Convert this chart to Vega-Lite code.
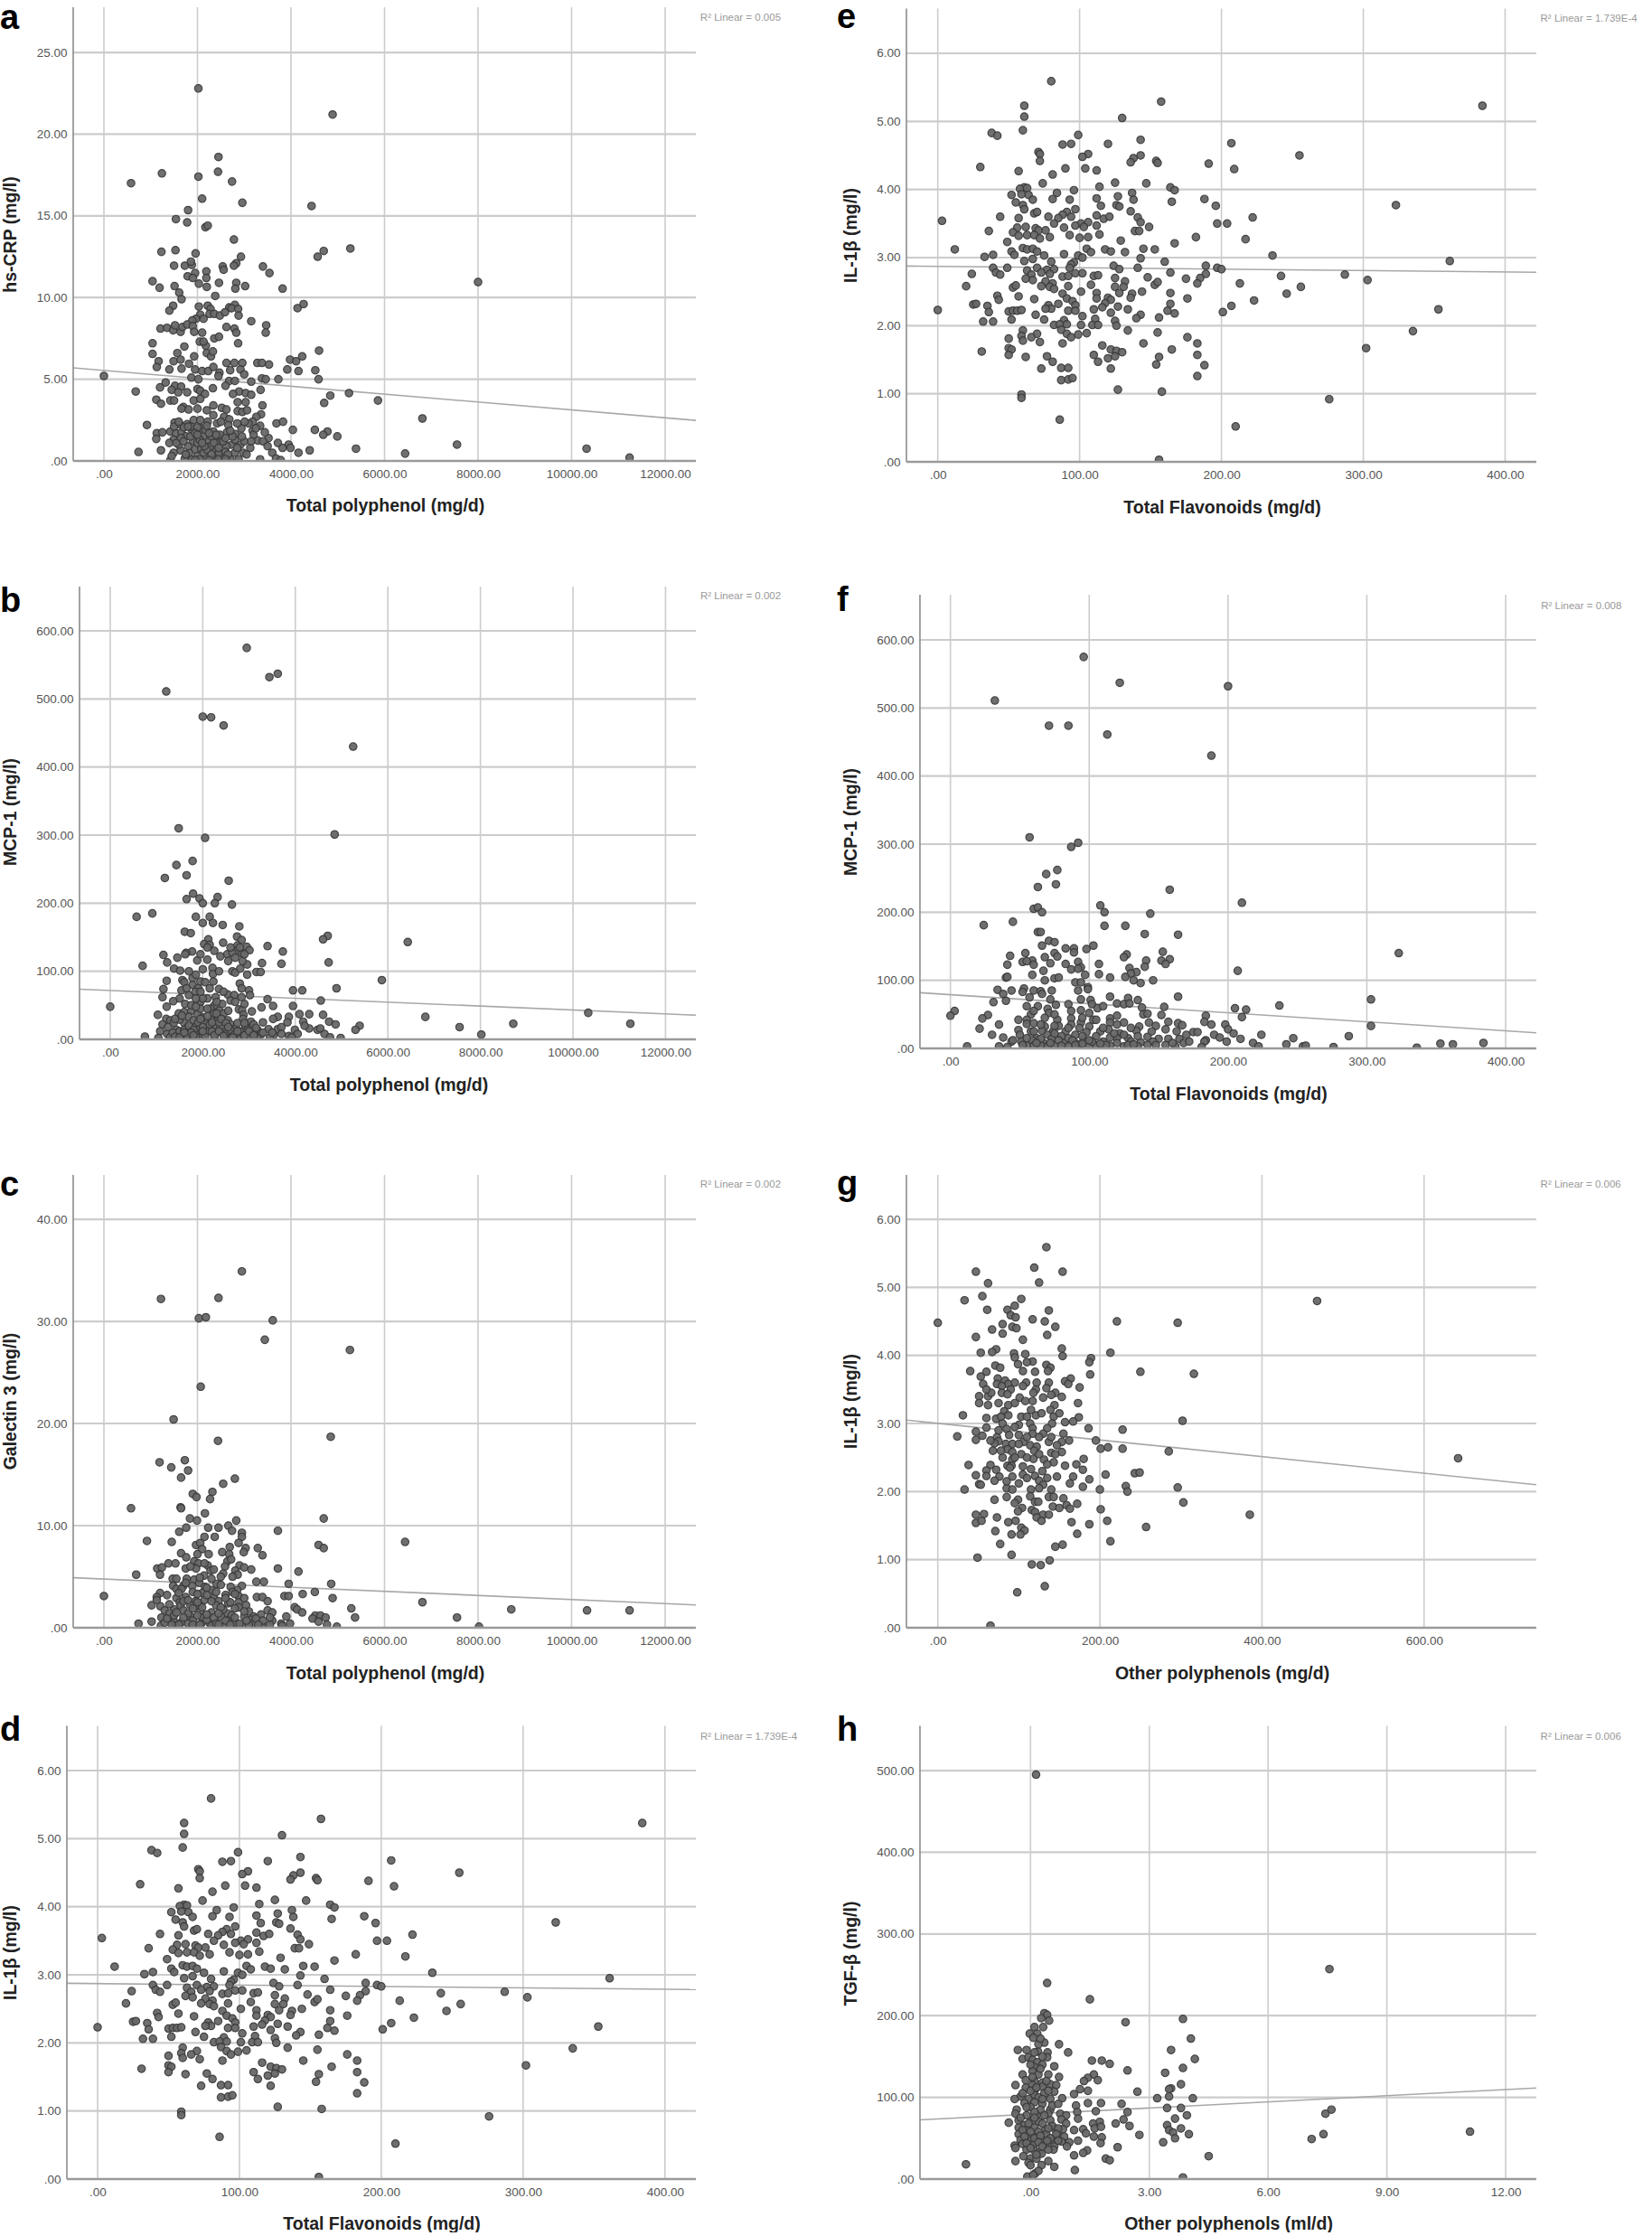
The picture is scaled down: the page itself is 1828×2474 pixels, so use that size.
{"$schema":"https://vega.github.io/schema/vega-lite/v6.json","padding":0,"background":"white","bounds":"flush","columns":2,"spacing":{"row":20,"column":233},
"config":{"view":{"stroke":null},"font":"Liberation Sans","axis":{"grid":false,"domain":false,"ticks":false,"tickSize":0,"labelFont":"Liberation Sans","labelFontSize":13.5,"labelColor":"#555555","titleFont":"Liberation Sans","titleFontSize":19.5,"titleFontWeight":"bold","titleColor":"#222222","zindex":1,"labelPadding":7},"title":{"font":"Liberation Sans","fontSize":38,"fontWeight":"bold","color":"#000000","anchor":"start","frame":"group","offset":0,"baseline":"alphabetic"},"rule":{"color":"#cccccc"}},
"datasets":{
"e":[{"x":80,"y":5.59},{"x":157.5,"y":5.29},{"x":384,"y":5.23},{"x":61,"y":5.23},{"x":61,"y":5.07},{"x":130,"y":5.05},{"x":60,"y":4.87},{"x":38,"y":4.83},{"x":42,"y":4.79},{"x":99,"y":4.8},{"x":143,"y":4.73},{"x":88,"y":4.66},{"x":94,"y":4.67},{"x":120,"y":4.67},{"x":207,"y":4.68},{"x":106,"y":4.52},{"x":143,"y":4.5},{"x":102,"y":4.48},{"x":71,"y":4.55},{"x":72,"y":4.52},{"x":72,"y":4.42},{"x":138,"y":4.46},{"x":136,"y":4.4},{"x":154,"y":4.42},{"x":155,"y":4.39},{"x":191,"y":4.38},{"x":255,"y":4.5},{"x":30,"y":4.33},{"x":90,"y":4.31},{"x":104,"y":4.31},{"x":209,"y":4.3},{"x":112,"y":4.28},{"x":57,"y":4.27},{"x":81,"y":4.22},{"x":125,"y":4.1},{"x":147,"y":4.09},{"x":74,"y":4.09},{"x":114,"y":4.04},{"x":61,"y":4.03},{"x":58,"y":4.01},{"x":63,"y":4.02},{"x":164,"y":4.03},{"x":167,"y":3.99},{"x":96,"y":3.99},{"x":137,"y":3.95},{"x":84,"y":3.95},{"x":52,"y":3.92},{"x":64,"y":3.92},{"x":127,"y":3.9},{"x":59,"y":3.93},{"x":67,"y":3.85},{"x":81,"y":3.86},{"x":93,"y":3.85},{"x":112,"y":3.87},{"x":138,"y":3.85},{"x":165,"y":3.82},{"x":188,"y":3.86},{"x":55,"y":3.81},{"x":60,"y":3.77},{"x":126,"y":3.77},{"x":128,"y":3.75},{"x":115,"y":3.76},{"x":196,"y":3.76},{"x":323,"y":3.77},{"x":97,"y":3.71},{"x":136,"y":3.68},{"x":61,"y":3.71},{"x":91,"y":3.67},{"x":68,"y":3.65},{"x":70,"y":3.67},{"x":88,"y":3.63},{"x":57,"y":3.58},{"x":44,"y":3.6},{"x":78,"y":3.6},{"x":85,"y":3.58},{"x":94,"y":3.6},{"x":112,"y":3.62},{"x":117,"y":3.57},{"x":121,"y":3.6},{"x":141,"y":3.59},{"x":222,"y":3.59},{"x":3,"y":3.54},{"x":143,"y":3.52},{"x":197,"y":3.5},{"x":204,"y":3.5},{"x":82,"y":3.5},{"x":101,"y":3.5},{"x":106,"y":3.52},{"x":97,"y":3.47},{"x":103,"y":3.45},{"x":149,"y":3.45},{"x":112,"y":3.47},{"x":56,"y":3.44},{"x":62,"y":3.45},{"x":69,"y":3.43},{"x":71,"y":3.4},{"x":76,"y":3.4},{"x":89,"y":3.44},{"x":36,"y":3.39},{"x":53,"y":3.37},{"x":114,"y":3.34},{"x":63,"y":3.33},{"x":57,"y":3.32},{"x":68,"y":3.33},{"x":79,"y":3.3},{"x":72,"y":3.28},{"x":93,"y":3.33},{"x":100,"y":3.29},{"x":106,"y":3.3},{"x":139,"y":3.39},{"x":142,"y":3.39},{"x":182,"y":3.3},{"x":217,"y":3.27},{"x":49,"y":3.23},{"x":129,"y":3.25},{"x":167,"y":3.21},{"x":60,"y":3.14},{"x":63,"y":3.12},{"x":67,"y":3.13},{"x":70,"y":3.09},{"x":105,"y":3.13},{"x":118,"y":3.12},{"x":145,"y":3.13},{"x":153,"y":3.12},{"x":12,"y":3.12},{"x":108,"y":3.08},{"x":122,"y":3.09},{"x":132,"y":3.08},{"x":52,"y":3.09},{"x":33,"y":3.01},{"x":39,"y":3.04},{"x":54,"y":3.04},{"x":75,"y":3.03},{"x":89,"y":3.05},{"x":99,"y":3.03},{"x":102,"y":3},{"x":143,"y":2.99},{"x":236,"y":3.03},{"x":67,"y":2.98},{"x":61,"y":2.95},{"x":80,"y":2.94},{"x":160,"y":2.94},{"x":96,"y":2.93},{"x":94,"y":2.9},{"x":124,"y":2.88},{"x":361,"y":2.95},{"x":39,"y":2.85},{"x":49,"y":2.85},{"x":63,"y":2.81},{"x":70,"y":2.85},{"x":77,"y":2.82},{"x":82,"y":2.83},{"x":93,"y":2.85},{"x":128,"y":2.83},{"x":141,"y":2.85},{"x":189,"y":2.88},{"x":197,"y":2.85},{"x":200,"y":2.83},{"x":41,"y":2.78},{"x":44,"y":2.75},{"x":24,"y":2.76},{"x":66,"y":2.75},{"x":73,"y":2.78},{"x":79,"y":2.76},{"x":97,"y":2.77},{"x":102,"y":2.77},{"x":164,"y":2.78},{"x":189,"y":2.76},{"x":242,"y":2.73},{"x":287,"y":2.75},{"x":303,"y":2.67},{"x":88,"y":2.72},{"x":92,"y":2.73},{"x":110,"y":2.73},{"x":113,"y":2.74},{"x":125,"y":2.7},{"x":148,"y":2.71},{"x":175,"y":2.69},{"x":185,"y":2.7},{"x":62,"y":2.69},{"x":67,"y":2.67},{"x":76,"y":2.65},{"x":81,"y":2.62},{"x":132,"y":2.65},{"x":153,"y":2.6},{"x":155,"y":2.64},{"x":183,"y":2.62},{"x":213,"y":2.62},{"x":256,"y":2.57},{"x":20,"y":2.58},{"x":53,"y":2.56},{"x":55,"y":2.59},{"x":73,"y":2.58},{"x":79,"y":2.57},{"x":82,"y":2.54},{"x":92,"y":2.58},{"x":108,"y":2.6},{"x":125,"y":2.57},{"x":131,"y":2.57},{"x":128,"y":2.48},{"x":137,"y":2.47},{"x":144,"y":2.5},{"x":101,"y":2.5},{"x":112,"y":2.48},{"x":164,"y":2.48},{"x":246,"y":2.47},{"x":42,"y":2.44},{"x":57,"y":2.43},{"x":88,"y":2.47},{"x":91,"y":2.4},{"x":68,"y":2.39},{"x":112,"y":2.4},{"x":120,"y":2.41},{"x":122,"y":2.38},{"x":136,"y":2.41},{"x":176,"y":2.4},{"x":223,"y":2.37},{"x":43,"y":2.38},{"x":95,"y":2.36},{"x":118,"y":2.33},{"x":97,"y":2.3},{"x":25,"y":2.31},{"x":27,"y":2.32},{"x":35,"y":2.29},{"x":78,"y":2.3},{"x":85,"y":2.32},{"x":80,"y":2.25},{"x":76,"y":2.25},{"x":164,"y":2.32},{"x":207,"y":2.29},{"x":116,"y":2.27},{"x":127,"y":2.28},{"x":110,"y":2.24},{"x":134,"y":2.24},{"x":92,"y":2.22},{"x":97,"y":2.22},{"x":50,"y":2.21},{"x":53,"y":2.22},{"x":56,"y":2.22},{"x":59,"y":2.23},{"x":36,"y":2.2},{"x":0,"y":2.23},{"x":353,"y":2.24},{"x":162,"y":2.22},{"x":201,"y":2.2},{"x":122,"y":2.19},{"x":167,"y":2.18},{"x":69,"y":2.16},{"x":143,"y":2.16},{"x":102,"y":2.14},{"x":156,"y":2.12},{"x":140,"y":2.11},{"x":111,"y":2.1},{"x":75,"y":2.09},{"x":52,"y":2.09},{"x":89,"y":2.08},{"x":32,"y":2.06},{"x":39,"y":2.06},{"x":125,"y":2.07},{"x":82,"y":2.01},{"x":86,"y":2.02},{"x":91,"y":2.02},{"x":101,"y":2.01},{"x":109,"y":2.01},{"x":113,"y":2.01},{"x":126,"y":2},{"x":87,"y":1.94},{"x":60,"y":1.93},{"x":70,"y":1.88},{"x":91,"y":1.88},{"x":99,"y":1.87},{"x":105,"y":1.89},{"x":134,"y":1.93},{"x":155,"y":1.9},{"x":335,"y":1.92},{"x":94,"y":1.83},{"x":50,"y":1.81},{"x":59,"y":1.85},{"x":66,"y":1.83},{"x":60,"y":1.78},{"x":72,"y":1.76},{"x":88,"y":1.74},{"x":116,"y":1.71},{"x":145,"y":1.74},{"x":176,"y":1.83},{"x":183,"y":1.74},{"x":50,"y":1.67},{"x":52,"y":1.65},{"x":122,"y":1.65},{"x":126,"y":1.63},{"x":130,"y":1.61},{"x":165,"y":1.65},{"x":302,"y":1.67},{"x":31,"y":1.62},{"x":50,"y":1.57},{"x":62,"y":1.54},{"x":77,"y":1.55},{"x":110,"y":1.57},{"x":120,"y":1.52},{"x":125,"y":1.55},{"x":156,"y":1.54},{"x":183,"y":1.57},{"x":81,"y":1.47},{"x":113,"y":1.47},{"x":154,"y":1.43},{"x":188,"y":1.42},{"x":73,"y":1.37},{"x":87,"y":1.38},{"x":92,"y":1.38},{"x":122,"y":1.37},{"x":183,"y":1.26},{"x":87,"y":1.2},{"x":92,"y":1.21},{"x":95,"y":1.23},{"x":127,"y":1.06},{"x":158,"y":1.03},{"x":59,"y":0.99},{"x":59,"y":0.94},{"x":276,"y":0.92},{"x":86,"y":0.62},{"x":210,"y":0.52},{"x":156,"y":0.03}],
"a":[{"x":2020,"y":22.8},{"x":4890,"y":21.2},{"x":2450,"y":18.6},{"x":2440,"y":17.7},{"x":1240,"y":17.6},{"x":2020,"y":17.4},{"x":580,"y":17},{"x":2740,"y":17.1},{"x":2100,"y":16.05},{"x":2960,"y":15.8},{"x":4440,"y":15.6},{"x":1800,"y":15.35},{"x":1540,"y":14.8},{"x":1780,"y":14.6},{"x":2170,"y":14.3},{"x":2220,"y":14.4},{"x":2780,"y":13.55},{"x":1230,"y":12.8},{"x":1530,"y":12.9},{"x":1960,"y":12.7},{"x":5270,"y":13},{"x":4700,"y":12.85},{"x":4570,"y":12.5},{"x":2930,"y":12.5},{"x":2830,"y":12.1},{"x":2780,"y":11.95},{"x":1500,"y":11.95},{"x":1730,"y":11.95},{"x":1880,"y":12},{"x":1860,"y":12.2},{"x":2540,"y":11.9},{"x":2560,"y":11.7},{"x":2190,"y":11.6},{"x":1950,"y":11.5},{"x":3400,"y":11.9},{"x":3540,"y":11.5},{"x":1790,"y":11.3},{"x":1900,"y":11.2},{"x":2190,"y":11.2},{"x":1040,"y":11},{"x":1190,"y":10.6},{"x":1510,"y":10.7},{"x":2030,"y":10.85},{"x":2200,"y":10.65},{"x":2460,"y":10.9},{"x":2830,"y":10.9},{"x":2810,"y":10.55},{"x":3020,"y":10.7},{"x":3820,"y":10.55},{"x":8000,"y":10.95},{"x":1610,"y":10.3},{"x":2380,"y":10.1},{"x":1660,"y":9.9},{"x":1480,"y":9.5},{"x":1400,"y":9.2},{"x":2030,"y":9.45},{"x":2220,"y":9.5},{"x":2280,"y":9.3},{"x":2680,"y":9.4},{"x":2800,"y":9.55},{"x":2730,"y":9.35},{"x":2870,"y":9.3},{"x":4140,"y":9.35},{"x":4270,"y":9.6},{"x":2060,"y":8.95},{"x":2260,"y":9},{"x":2360,"y":9},{"x":2480,"y":8.9},{"x":2590,"y":9.1},{"x":2880,"y":8.9},{"x":1970,"y":8.7},{"x":1890,"y":8.6},{"x":2130,"y":8.7},{"x":3150,"y":8.55},{"x":1210,"y":8.1},{"x":1350,"y":8.15},{"x":1480,"y":8},{"x":1520,"y":8.3},{"x":1640,"y":7.9},{"x":1680,"y":8.2},{"x":1780,"y":8.35},{"x":1900,"y":8.25},{"x":1930,"y":7.9},{"x":2100,"y":7.85},{"x":2620,"y":8.2},{"x":2790,"y":8.1},{"x":2830,"y":7.85},{"x":3470,"y":8.3},{"x":3460,"y":7.85},{"x":2360,"y":7.5},{"x":2460,"y":7.6},{"x":2050,"y":7.3},{"x":1040,"y":7.2},{"x":1720,"y":7},{"x":2180,"y":7.05},{"x":2870,"y":7.2},{"x":2130,"y":7.3},{"x":1040,"y":6.55},{"x":1570,"y":6.6},{"x":1930,"y":6.4},{"x":2200,"y":6.6},{"x":2290,"y":6.4},{"x":2330,"y":6.7},{"x":1490,"y":6.1},{"x":1170,"y":6.1},{"x":1640,"y":6.2},{"x":3980,"y":6.2},{"x":4110,"y":6.1},{"x":4240,"y":6.4},{"x":4600,"y":6.75},{"x":1820,"y":5.95},{"x":2620,"y":6},{"x":2790,"y":6},{"x":2960,"y":6},{"x":3280,"y":6},{"x":3380,"y":6},{"x":3530,"y":5.9},{"x":1130,"y":5.75},{"x":1400,"y":5.6},{"x":1660,"y":5.65},{"x":1950,"y":5.6},{"x":2100,"y":5.5},{"x":2230,"y":5.5},{"x":2340,"y":5.75},{"x":2470,"y":5.4},{"x":2700,"y":5.55},{"x":2920,"y":5.6},{"x":3920,"y":5.6},{"x":4160,"y":5.5},{"x":4520,"y":5.55},{"x":3000,"y":5.3},{"x":2450,"y":5.2},{"x":1870,"y":5.1},{"x":2020,"y":5},{"x":2680,"y":4.9},{"x":2800,"y":4.9},{"x":3150,"y":4.85},{"x":3380,"y":5.05},{"x":3460,"y":5},{"x":3730,"y":5},{"x":4590,"y":5},{"x":1320,"y":4.8},{"x":1200,"y":4.5},{"x":1520,"y":4.6},{"x":1650,"y":4.55},{"x":2000,"y":4.4},{"x":2060,"y":4.3},{"x":2330,"y":4.45},{"x":2600,"y":4.6},{"x":1450,"y":4.35},{"x":1590,"y":4.2},{"x":1780,"y":4.2},{"x":2890,"y":4.25},{"x":3030,"y":4.15},{"x":3150,"y":4.05},{"x":3350,"y":4.35},{"x":2760,"y":4.1},{"x":2160,"y":4.1},{"x":4840,"y":4},{"x":5240,"y":4.15},{"x":1420,"y":3.7},{"x":1120,"y":3.75},{"x":1220,"y":3.5},{"x":1500,"y":3.7},{"x":1700,"y":3.3},{"x":1920,"y":3.7},{"x":2060,"y":3.8},{"x":2340,"y":3.4},{"x":2520,"y":3.25},{"x":2860,"y":3.6},{"x":3030,"y":3.6},{"x":3390,"y":3.4},{"x":4710,"y":3.55},{"x":5860,"y":3.7},{"x":1660,"y":3.2},{"x":1810,"y":3.15},{"x":2000,"y":3.2},{"x":2200,"y":3.1},{"x":2620,"y":3.15},{"x":2860,"y":3.05},{"x":2960,"y":3},{"x":3060,"y":3.1},{"x":2340,"y":2.8},{"x":2570,"y":2.7},{"x":3360,"y":2.85},{"x":3260,"y":2.7},{"x":2680,"y":2.55},{"x":1510,"y":2.35},{"x":1620,"y":2.25},{"x":1780,"y":2.25},{"x":1920,"y":2.5},{"x":2060,"y":2.5},{"x":2220,"y":2.4},{"x":3180,"y":2.4},{"x":3090,"y":2.3},{"x":3690,"y":2.3},{"x":3830,"y":2.4},{"x":6810,"y":2.6},{"x":920,"y":2.2},{"x":1130,"y":1.7},{"x":1250,"y":1.75},{"x":1420,"y":1.8},{"x":1540,"y":1.7},{"x":1660,"y":1.75},{"x":1880,"y":1.9},{"x":2080,"y":2},{"x":2340,"y":1.8},{"x":2630,"y":1.75},{"x":2810,"y":1.65},{"x":2940,"y":2},{"x":3340,"y":2.15},{"x":3520,"y":1.4},{"x":4040,"y":1.9},{"x":4510,"y":1.9},{"x":4780,"y":1.8},{"x":4690,"y":1.6},{"x":4990,"y":1.5},{"x":1120,"y":1.35},{"x":1490,"y":1.3},{"x":1750,"y":1.5},{"x":1900,"y":1.2},{"x":2120,"y":1.5},{"x":2250,"y":1.2},{"x":2500,"y":1.35},{"x":2730,"y":1},{"x":2920,"y":1},{"x":3290,"y":1.25},{"x":3720,"y":1.1},{"x":3950,"y":1},{"x":7550,"y":1},{"x":740,"y":0.55},{"x":1220,"y":0.65},{"x":1640,"y":0.65},{"x":1490,"y":0.5},{"x":1950,"y":0.7},{"x":2080,"y":0.75},{"x":2280,"y":0.9},{"x":2400,"y":0.6},{"x":2620,"y":0.9},{"x":2800,"y":0.5},{"x":3130,"y":0.8},{"x":3600,"y":0.5},{"x":3820,"y":0.8},{"x":3990,"y":0.8},{"x":4160,"y":0.5},{"x":4400,"y":0.65},{"x":5390,"y":0.75},{"x":6440,"y":0.45},{"x":10320,"y":0.75},{"x":11240,"y":0.2},{"x":1420,"y":0.05},{"x":1730,"y":0.15},{"x":1890,"y":0.1},{"x":2000,"y":0.3},{"x":2180,"y":0.2},{"x":2350,"y":0.15},{"x":2530,"y":0.3},{"x":2700,"y":0.1},{"x":2880,"y":0.1},{"x":3340,"y":0.1},{"x":3680,"y":0.15},{"x":3780,"y":0.05},{"x":2130,"y":0.5},{"x":2460,"y":0.5},{"x":1820,"y":0.5},{"x":2980,"y":0.5},{"x":2300,"y":1.5},{"x":2480,"y":1.6},{"x":1710,"y":2.05},{"x":1860,"y":2.1},{"x":2000,"y":2.05},{"x":2170,"y":1.9},{"x":2420,"y":2.3},{"x":2660,"y":2.2},{"x":3010,"y":2.4},{"x":3180,"y":1.85},{"x":3440,"y":1.75},{"x":0,"y":5.2},{"x":680,"y":4.25},{"x":1400,"y":1.1},{"x":1600,"y":1},{"x":1800,"y":0.9},{"x":2000,"y":1.1},{"x":2200,"y":0.7},{"x":2400,"y":1.1},{"x":2600,"y":0.55},{"x":2800,"y":1.3},{"x":3000,"y":1.2},{"x":3200,"y":1.6},{"x":3400,"y":1.2},{"x":3500,"y":0.9},{"x":1450,"y":0.3},{"x":1550,"y":1.1},{"x":1650,"y":1.4},{"x":1750,"y":0.4},{"x":1850,"y":1.5},{"x":1950,"y":1.7},{"x":2050,"y":1.3},{"x":2150,"y":0.9},{"x":2250,"y":1.7},{"x":2350,"y":1.1},{"x":2450,"y":0.8},{"x":2550,"y":1.2},{"x":2650,"y":0.4},{"x":2750,"y":1.5},{"x":2850,"y":0.8},{"x":2950,"y":1.5},{"x":3050,"y":0.4},{"x":3150,"y":1.2},{"x":3250,"y":2},{"x":1500,"y":2.1},{"x":1600,"y":2.4},{"x":1700,"y":1.2},{"x":1800,"y":2.1},{"x":2000,"y":1.6},{"x":2100,"y":1.1},{"x":2200,"y":2.15},{"x":2300,"y":0.4},{"x":2400,"y":1.6},{"x":2500,"y":2.4},{"x":2600,"y":1.4},{"x":2700,"y":1.85},{"x":2850,"y":2.3},{"x":2050,"y":0.1},{"x":2250,"y":0.05},{"x":2450,"y":0.1},{"x":2600,"y":0.1},{"x":1950,"y":0.05}],
"b":[{"x":2950,"y":575},{"x":3620,"y":537},{"x":3440,"y":532},{"x":1210,"y":511},{"x":2000,"y":474},{"x":2180,"y":473},{"x":2450,"y":461},{"x":5250,"y":430},{"x":1480,"y":310},{"x":2050,"y":296},{"x":4850,"y":301},{"x":1780,"y":262},{"x":1430,"y":256},{"x":1650,"y":241},{"x":1180,"y":237},{"x":2560,"y":233},{"x":1790,"y":214},{"x":1650,"y":206},{"x":1930,"y":207},{"x":2000,"y":200},{"x":2320,"y":209},{"x":2260,"y":200},{"x":2630,"y":198},{"x":570,"y":180},{"x":910,"y":185},{"x":1850,"y":180},{"x":2150,"y":180},{"x":2000,"y":171},{"x":2220,"y":171},{"x":2430,"y":168},{"x":2790,"y":166},{"x":1610,"y":158},{"x":1740,"y":156},{"x":6430,"y":143},{"x":4700,"y":152},{"x":4600,"y":147},{"x":2740,"y":151},{"x":2120,"y":147},{"x":2840,"y":146},{"x":2440,"y":142},{"x":2030,"y":140},{"x":2150,"y":139},{"x":2750,"y":138},{"x":3400,"y":137},{"x":2950,"y":136},{"x":2100,"y":135},{"x":3010,"y":131},{"x":2740,"y":130},{"x":3730,"y":129},{"x":1770,"y":129},{"x":1640,"y":127},{"x":2530,"y":125},{"x":1150,"y":124},{"x":2850,"y":126},{"x":2380,"y":122},{"x":2640,"y":127},{"x":1620,"y":125},{"x":1450,"y":120},{"x":1880,"y":116},{"x":2100,"y":117},{"x":1230,"y":113},{"x":2960,"y":110},{"x":3280,"y":112},{"x":3700,"y":111},{"x":4720,"y":113},{"x":2860,"y":115},{"x":700,"y":108},{"x":1380,"y":104},{"x":2000,"y":103},{"x":2210,"y":105},{"x":1510,"y":101},{"x":2640,"y":100},{"x":2700,"y":98},{"x":2810,"y":104},{"x":3160,"y":99},{"x":3250,"y":99},{"x":2960,"y":95},{"x":2220,"y":96},{"x":1220,"y":86},{"x":1560,"y":87},{"x":1600,"y":84},{"x":1780,"y":90},{"x":1950,"y":85},{"x":2050,"y":84},{"x":2230,"y":85},{"x":5870,"y":87},{"x":1780,"y":80},{"x":2800,"y":82},{"x":1150,"y":74},{"x":1540,"y":72},{"x":1900,"y":75},{"x":2350,"y":74},{"x":2840,"y":75},{"x":3000,"y":72},{"x":3950,"y":72},{"x":4150,"y":72},{"x":4890,"y":75},{"x":1130,"y":62},{"x":1500,"y":60},{"x":1700,"y":65},{"x":1840,"y":70},{"x":2100,"y":60},{"x":2280,"y":62},{"x":2540,"y":66},{"x":2680,"y":65},{"x":2840,"y":62},{"x":3020,"y":65},{"x":3400,"y":59},{"x":4550,"y":57},{"x":1360,"y":56},{"x":1950,"y":55},{"x":2250,"y":50},{"x":1220,"y":48},{"x":1620,"y":52},{"x":2420,"y":52},{"x":2600,"y":57},{"x":3270,"y":47},{"x":3520,"y":49},{"x":3950,"y":49},{"x":0,"y":48},{"x":2170,"y":45},{"x":2780,"y":44},{"x":2360,"y":42},{"x":2850,"y":43},{"x":3060,"y":41},{"x":1030,"y":36},{"x":1480,"y":38},{"x":1600,"y":40},{"x":1750,"y":42},{"x":1890,"y":37},{"x":2450,"y":38},{"x":2880,"y":36},{"x":3620,"y":33},{"x":3860,"y":33},{"x":4090,"y":37},{"x":4300,"y":37},{"x":4600,"y":36},{"x":6810,"y":33},{"x":10330,"y":39},{"x":1210,"y":30},{"x":1300,"y":28},{"x":2000,"y":32},{"x":2200,"y":30},{"x":2540,"y":28},{"x":2870,"y":30},{"x":3040,"y":26},{"x":3520,"y":30},{"x":3830,"y":25},{"x":4170,"y":26},{"x":4730,"y":26},{"x":1130,"y":22},{"x":1370,"y":24},{"x":1600,"y":24},{"x":1850,"y":20},{"x":2100,"y":24},{"x":2320,"y":27},{"x":2600,"y":22},{"x":2920,"y":20},{"x":3100,"y":22},{"x":4870,"y":22},{"x":5390,"y":20},{"x":8710,"y":23},{"x":11240,"y":23},{"x":1080,"y":12},{"x":1430,"y":14},{"x":1650,"y":16},{"x":1900,"y":14},{"x":2220,"y":18},{"x":2450,"y":12},{"x":2700,"y":16},{"x":2970,"y":14},{"x":3180,"y":14},{"x":3420,"y":15},{"x":3620,"y":15},{"x":3990,"y":14},{"x":4300,"y":16},{"x":4480,"y":14},{"x":4540,"y":16},{"x":5300,"y":14},{"x":7550,"y":18},{"x":1230,"y":8},{"x":1550,"y":8},{"x":1720,"y":6},{"x":1840,"y":9},{"x":2040,"y":8},{"x":2290,"y":9},{"x":2500,"y":8},{"x":2800,"y":6},{"x":3090,"y":9},{"x":3260,"y":7},{"x":3530,"y":6},{"x":3860,"y":5},{"x":4050,"y":8},{"x":4630,"y":8},{"x":750,"y":4},{"x":1040,"y":2},{"x":1290,"y":3},{"x":1640,"y":3},{"x":1950,"y":2},{"x":2250,"y":2},{"x":2480,"y":3},{"x":2750,"y":2},{"x":3000,"y":3},{"x":3180,"y":2},{"x":3450,"y":3},{"x":3920,"y":3},{"x":4750,"y":3},{"x":4980,"y":2},{"x":8020,"y":7},{"x":1500,"y":29},{"x":1700,"y":33},{"x":2400,"y":20},{"x":2150,"y":12},{"x":2650,"y":10},{"x":1350,"y":10},{"x":3300,"y":25},{"x":3700,"y":18},{"x":4200,"y":20},{"x":2900,"y":52},{"x":2250,"y":38},{"x":2350,"y":25},{"x":1950,"y":45},{"x":2550,"y":42},{"x":2000,"y":60},{"x":2750,"y":24},{"x":3150,"y":17},{"x":1800,"y":28},{"x":1250,"y":18},{"x":1400,"y":30},{"x":1500,"y":12},{"x":1600,"y":14},{"x":1700,"y":20},{"x":1800,"y":14},{"x":1900,"y":25},{"x":2000,"y":18},{"x":2100,"y":34},{"x":2200,"y":12},{"x":2300,"y":38},{"x":2400,"y":30},{"x":2500,"y":24},{"x":2600,"y":14},{"x":2700,"y":8},{"x":2800,"y":12},{"x":2900,"y":24},{"x":1550,"y":35},{"x":1650,"y":6},{"x":1750,"y":10},{"x":1850,"y":4},{"x":1950,"y":30},{"x":2050,"y":4},{"x":2150,"y":22},{"x":2250,"y":6},{"x":2350,"y":12},{"x":2450,"y":5},{"x":2550,"y":18},{"x":2650,"y":3},{"x":2750,"y":12},{"x":2900,"y":6},{"x":3000,"y":12},{"x":3100,"y":6},{"x":3300,"y":10},{"x":3500,"y":10},{"x":3700,"y":8},{"x":1400,"y":4},{"x":1500,"y":3},{"x":1600,"y":10},{"x":1800,"y":6},{"x":2000,"y":12},{"x":2200,"y":25},{"x":1750,"y":50},{"x":1850,"y":48},{"x":2100,"y":45},{"x":2300,"y":55},{"x":2450,"y":70},{"x":1950,"y":70},{"x":1650,"y":75},{"x":1850,"y":60},{"x":2150,"y":75},{"x":2700,"y":55},{"x":1700,"y":100},{"x":1850,"y":95},{"x":2350,"y":100},{"x":2550,"y":115},{"x":2250,"y":130},{"x":1950,"y":125},{"x":2600,"y":135},{"x":2900,"y":125},{"x":2800,"y":135},{"x":2700,"y":120}],
"c":[{"x":2950,"y":34.9},{"x":1220,"y":32.2},{"x":2450,"y":32.3},{"x":2030,"y":30.3},{"x":2180,"y":30.4},{"x":3610,"y":30.1},{"x":3440,"y":28.2},{"x":5260,"y":27.2},{"x":2070,"y":23.6},{"x":1490,"y":20.4},{"x":4850,"y":18.7},{"x":2440,"y":18.3},{"x":1190,"y":16.2},{"x":1730,"y":16.4},{"x":1800,"y":15.4},{"x":1440,"y":15.7},{"x":1650,"y":14.7},{"x":2800,"y":14.6},{"x":2550,"y":14.1},{"x":2320,"y":13.3},{"x":1900,"y":13.1},{"x":1980,"y":12.8},{"x":2270,"y":12.6},{"x":580,"y":11.7},{"x":1640,"y":11.8},{"x":1650,"y":11.7},{"x":2160,"y":11.2},{"x":4700,"y":10.7},{"x":1840,"y":10.7},{"x":1990,"y":10.5},{"x":2830,"y":10.5},{"x":2660,"y":10},{"x":2230,"y":9.8},{"x":2450,"y":9.8},{"x":1760,"y":9.8},{"x":1610,"y":9.4},{"x":2740,"y":9.5},{"x":2950,"y":9.3},{"x":3720,"y":9.5},{"x":920,"y":8.5},{"x":1450,"y":8.4},{"x":2150,"y":8.9},{"x":2370,"y":8.9},{"x":2950,"y":8.9},{"x":1970,"y":8.1},{"x":2060,"y":8.3},{"x":2880,"y":8.3},{"x":4590,"y":8.1},{"x":4700,"y":7.8},{"x":6440,"y":8.4},{"x":2100,"y":7.7},{"x":2690,"y":7.9},{"x":3030,"y":7.8},{"x":3290,"y":7.8},{"x":2240,"y":7.2},{"x":2530,"y":7.4},{"x":2680,"y":7.2},{"x":1650,"y":7.3},{"x":2000,"y":7.2},{"x":3390,"y":7.1},{"x":2990,"y":7.4},{"x":1760,"y":6.9},{"x":1930,"y":6.5},{"x":2020,"y":6.3},{"x":2640,"y":6.5},{"x":2720,"y":6.7},{"x":1380,"y":6.3},{"x":1530,"y":6.3},{"x":2220,"y":6.1},{"x":2900,"y":6.1},{"x":2590,"y":6},{"x":1140,"y":5.8},{"x":1240,"y":5.9},{"x":1750,"y":5.8},{"x":1970,"y":5.8},{"x":2280,"y":5.6},{"x":2810,"y":5.6},{"x":3000,"y":5.9},{"x":3150,"y":5.7},{"x":3720,"y":5.8},{"x":4160,"y":5.5},{"x":2550,"y":5.3},{"x":2860,"y":5.2},{"x":690,"y":5.2},{"x":1200,"y":5.2},{"x":2140,"y":5.1},{"x":2500,"y":5},{"x":1470,"y":4.8},{"x":1550,"y":4.8},{"x":1770,"y":4.8},{"x":1930,"y":4.7},{"x":3260,"y":4.5},{"x":3420,"y":4.5},{"x":2040,"y":4.4},{"x":2410,"y":4.3},{"x":3950,"y":4.3},{"x":4860,"y":4.3},{"x":1480,"y":4.1},{"x":1700,"y":4.1},{"x":1890,"y":4.1},{"x":2160,"y":4},{"x":2710,"y":4},{"x":2950,"y":4.1},{"x":1550,"y":3.8},{"x":1660,"y":3.8},{"x":2300,"y":3.7},{"x":2850,"y":3.7},{"x":1900,"y":3.5},{"x":2100,"y":3.4},{"x":2600,"y":3.2},{"x":1200,"y":3.4},{"x":1350,"y":3.2},{"x":2000,"y":3.3},{"x":0,"y":3.1},{"x":3860,"y":3.1},{"x":3950,"y":3.1},{"x":4250,"y":3.3},{"x":4510,"y":3.5},{"x":1130,"y":3},{"x":1550,"y":2.9},{"x":3270,"y":3},{"x":3390,"y":3},{"x":2880,"y":3.1},{"x":4890,"y":2.9},{"x":2350,"y":2.9},{"x":2150,"y":2.7},{"x":2450,"y":2.6},{"x":1130,"y":2.7},{"x":1620,"y":2.5},{"x":1960,"y":2.6},{"x":2660,"y":2.4},{"x":2880,"y":2.5},{"x":3500,"y":2.6},{"x":6810,"y":2.5},{"x":1020,"y":2.2},{"x":1210,"y":2.1},{"x":1640,"y":2.2},{"x":1850,"y":2.2},{"x":2050,"y":2.2},{"x":2400,"y":2.2},{"x":2880,"y":2},{"x":3040,"y":2.2},{"x":4080,"y":2},{"x":5290,"y":1.9},{"x":1300,"y":1.7},{"x":1500,"y":1.8},{"x":1700,"y":1.7},{"x":2060,"y":1.6},{"x":2300,"y":1.5},{"x":2650,"y":1.4},{"x":3500,"y":1.7},{"x":3600,"y":1.5},{"x":4130,"y":1.8},{"x":4240,"y":1.5},{"x":8710,"y":1.8},{"x":10330,"y":1.7},{"x":11240,"y":1.7},{"x":1230,"y":1},{"x":1470,"y":1},{"x":1850,"y":1.1},{"x":2100,"y":1},{"x":2500,"y":1.1},{"x":2730,"y":1.2},{"x":3000,"y":1.1},{"x":3200,"y":1.1},{"x":3360,"y":1.3},{"x":3900,"y":1.1},{"x":4520,"y":1.2},{"x":4630,"y":1.2},{"x":4460,"y":0.9},{"x":4740,"y":1},{"x":5370,"y":1},{"x":7550,"y":1},{"x":1020,"y":0.6},{"x":1500,"y":0.6},{"x":1650,"y":0.5},{"x":1900,"y":0.7},{"x":2250,"y":0.5},{"x":2350,"y":1},{"x":2640,"y":0.7},{"x":2800,"y":0.5},{"x":3150,"y":0.8},{"x":3600,"y":0.7},{"x":3790,"y":0.4},{"x":3980,"y":0.4},{"x":4590,"y":0.6},{"x":740,"y":0.4},{"x":1220,"y":0.2},{"x":1530,"y":0.2},{"x":1880,"y":0.1},{"x":2300,"y":0.2},{"x":2600,"y":0.2},{"x":2960,"y":0.2},{"x":3370,"y":0.2},{"x":3550,"y":0.3},{"x":3810,"y":0.2},{"x":4770,"y":0.3},{"x":4980,"y":0.1},{"x":8020,"y":0.1},{"x":2750,"y":3.5},{"x":2550,"y":1.8},{"x":2200,"y":3.9},{"x":1750,"y":3},{"x":3200,"y":0.4},{"x":3100,"y":1.6},{"x":2800,"y":1.9},{"x":1800,"y":0.4},{"x":2080,"y":0.4},{"x":1400,"y":1.4},{"x":1300,"y":0.5},{"x":1400,"y":2.3},{"x":1500,"y":1.2},{"x":1600,"y":0.3},{"x":1700,"y":2.6},{"x":1800,"y":1.4},{"x":1900,"y":0.3},{"x":2000,"y":1.2},{"x":2100,"y":2},{"x":2200,"y":0.8},{"x":2300,"y":2.6},{"x":2400,"y":0.4},{"x":2500,"y":2},{"x":2600,"y":0.7},{"x":2700,"y":2.5},{"x":2800,"y":1},{"x":2900,"y":0.4},{"x":3000,"y":1.6},{"x":3100,"y":0.3},{"x":3250,"y":0.9},{"x":3400,"y":0.7},{"x":3550,"y":1},{"x":1600,"y":3.4},{"x":1800,"y":2.7},{"x":2000,"y":2.5},{"x":2200,"y":3.2},{"x":2400,"y":3.5},{"x":2600,"y":2.9},{"x":2800,"y":3.3},{"x":3000,"y":2.9},{"x":1750,"y":4.4},{"x":2050,"y":4.9},{"x":2300,"y":4.8},{"x":2500,"y":4.2},{"x":2750,"y":5},{"x":2150,"y":6.3},{"x":2350,"y":5.7},{"x":1850,"y":6},{"x":1700,"y":1},{"x":1900,"y":1.9},{"x":2200,"y":1.3},{"x":2450,"y":1.4},{"x":2700,"y":0.3},{"x":2450,"y":0.3},{"x":2050,"y":0.3},{"x":1550,"y":1.5},{"x":1350,"y":0.9},{"x":1450,"y":0.3},{"x":3050,"y":0.7},{"x":3300,"y":0.3}],
"f":[{"x":96,"y":575},{"x":122,"y":537},{"x":200,"y":532},{"x":32,"y":511},{"x":71,"y":474},{"x":85,"y":474},{"x":113,"y":461},{"x":188,"y":430},{"x":57,"y":310},{"x":92,"y":302},{"x":87,"y":296},{"x":77,"y":262},{"x":69,"y":256},{"x":76,"y":241},{"x":63,"y":237},{"x":158,"y":233},{"x":210,"y":214},{"x":108,"y":210},{"x":60,"y":205},{"x":63,"y":207},{"x":66,"y":200},{"x":111,"y":200},{"x":144,"y":198},{"x":45,"y":186},{"x":24,"y":181},{"x":111,"y":180},{"x":126,"y":180},{"x":63,"y":171},{"x":65,"y":171},{"x":140,"y":168},{"x":164,"y":167},{"x":71,"y":158},{"x":75,"y":156},{"x":66,"y":151},{"x":103,"y":151},{"x":83,"y":147},{"x":89,"y":147},{"x":98,"y":146},{"x":75,"y":140},{"x":89,"y":141},{"x":54,"y":140},{"x":153,"y":142},{"x":43,"y":136},{"x":77,"y":135},{"x":68,"y":134},{"x":127,"y":138},{"x":125,"y":134},{"x":323,"y":140},{"x":52,"y":127},{"x":59,"y":129},{"x":41,"y":123},{"x":72,"y":125},{"x":83,"y":124},{"x":92,"y":127},{"x":94,"y":119},{"x":107,"y":124},{"x":141,"y":129},{"x":152,"y":129},{"x":158,"y":131},{"x":155,"y":124},{"x":55,"y":128},{"x":60,"y":123},{"x":87,"y":116},{"x":92,"y":117},{"x":140,"y":120},{"x":129,"y":118},{"x":134,"y":112},{"x":130,"y":110},{"x":67,"y":114},{"x":59,"y":108},{"x":97,"y":108},{"x":107,"y":109},{"x":40,"y":104},{"x":41,"y":105},{"x":75,"y":103},{"x":78,"y":104},{"x":115,"y":104},{"x":126,"y":105},{"x":132,"y":100},{"x":137,"y":96},{"x":146,"y":100},{"x":207,"y":114},{"x":68,"y":100},{"x":90,"y":97},{"x":94,"y":97},{"x":99,"y":90},{"x":99,"y":87},{"x":34,"y":86},{"x":38,"y":80},{"x":53,"y":88},{"x":44,"y":85},{"x":52,"y":83},{"x":60,"y":85},{"x":65,"y":84},{"x":73,"y":85},{"x":92,"y":85},{"x":66,"y":80},{"x":115,"y":76},{"x":128,"y":74},{"x":135,"y":71},{"x":164,"y":76},{"x":57,"y":75},{"x":72,"y":72},{"x":94,"y":72},{"x":101,"y":71},{"x":40,"y":70},{"x":31,"y":68},{"x":102,"y":65},{"x":120,"y":66},{"x":125,"y":65},{"x":129,"y":66},{"x":138,"y":60},{"x":154,"y":61},{"x":205,"y":59},{"x":213,"y":57},{"x":237,"y":63},{"x":303,"y":72},{"x":3,"y":55},{"x":0,"y":48},{"x":27,"y":49},{"x":23,"y":44},{"x":35,"y":35},{"x":21,"y":29},{"x":30,"y":20},{"x":44,"y":10},{"x":38,"y":16},{"x":55,"y":62},{"x":63,"y":62},{"x":70,"y":58},{"x":76,"y":64},{"x":94,"y":56},{"x":106,"y":59},{"x":87,"y":55},{"x":71,"y":52},{"x":58,"y":50},{"x":68,"y":45},{"x":55,"y":42},{"x":49,"y":42},{"x":77,"y":42},{"x":87,"y":44},{"x":103,"y":42},{"x":105,"y":42},{"x":115,"y":44},{"x":139,"y":50},{"x":142,"y":51},{"x":152,"y":49},{"x":184,"y":48},{"x":210,"y":46},{"x":115,"y":38},{"x":125,"y":38},{"x":87,"y":35},{"x":94,"y":38},{"x":100,"y":32},{"x":143,"y":38},{"x":148,"y":33},{"x":157,"y":39},{"x":183,"y":39},{"x":188,"y":35},{"x":198,"y":35},{"x":164,"y":37},{"x":167,"y":34},{"x":303,"y":33},{"x":55,"y":36},{"x":60,"y":37},{"x":68,"y":32},{"x":78,"y":33},{"x":120,"y":35},{"x":136,"y":32},{"x":49,"y":27},{"x":58,"y":25},{"x":66,"y":26},{"x":74,"y":25},{"x":83,"y":25},{"x":93,"y":30},{"x":108,"y":25},{"x":114,"y":28},{"x":122,"y":22},{"x":134,"y":26},{"x":163,"y":25},{"x":175,"y":24},{"x":178,"y":24},{"x":190,"y":20},{"x":200,"y":28},{"x":204,"y":22},{"x":224,"y":20},{"x":287,"y":18},{"x":50,"y":20},{"x":62,"y":15},{"x":70,"y":20},{"x":80,"y":18},{"x":90,"y":20},{"x":98,"y":24},{"x":120,"y":15},{"x":128,"y":15},{"x":142,"y":17},{"x":150,"y":14},{"x":157,"y":14},{"x":165,"y":14},{"x":184,"y":12},{"x":194,"y":16},{"x":209,"y":14},{"x":218,"y":8},{"x":247,"y":15},{"x":51,"y":10},{"x":59,"y":12},{"x":67,"y":8},{"x":73,"y":14},{"x":82,"y":8},{"x":90,"y":8},{"x":96,"y":12},{"x":110,"y":10},{"x":120,"y":8},{"x":130,"y":10},{"x":137,"y":9},{"x":146,"y":10},{"x":168,"y":8},{"x":183,"y":10},{"x":199,"y":10},{"x":242,"y":6},{"x":353,"y":7},{"x":362,"y":6},{"x":384,"y":8},{"x":12,"y":3},{"x":35,"y":3},{"x":41,"y":2},{"x":60,"y":4},{"x":70,"y":3},{"x":85,"y":3},{"x":100,"y":3},{"x":105,"y":5},{"x":115,"y":4},{"x":125,"y":3},{"x":135,"y":3},{"x":142,"y":5},{"x":155,"y":5},{"x":162,"y":3},{"x":181,"y":2},{"x":222,"y":3},{"x":254,"y":3},{"x":256,"y":4},{"x":276,"y":2},{"x":336,"y":1},{"x":75,"y":4},{"x":92,"y":2},{"x":55,"y":4},{"x":65,"y":5},{"x":95,"y":7},{"x":128,"y":5},{"x":45,"y":12},{"x":60,"y":25},{"x":75,"y":33},{"x":85,"y":15},{"x":95,"y":18},{"x":105,"y":18},{"x":115,"y":16},{"x":125,"y":20},{"x":135,"y":18},{"x":145,"y":25},{"x":155,"y":28},{"x":170,"y":20},{"x":55,"y":15},{"x":65,"y":14},{"x":72,"y":8},{"x":78,"y":12},{"x":88,"y":12},{"x":102,"y":10},{"x":112,"y":5},{"x":118,"y":22},{"x":132,"y":6},{"x":148,"y":5},{"x":160,"y":8},{"x":172,"y":10},{"x":52,"y":5},{"x":62,"y":8},{"x":80,"y":4},{"x":90,"y":5},{"x":100,"y":12},{"x":108,"y":7},{"x":75,"y":22},{"x":85,"y":30},{"x":95,"y":45},{"x":110,"y":30},{"x":130,"y":30},{"x":120,"y":48},{"x":65,"y":35},{"x":75,"y":50},{"x":85,"y":65},{"x":100,"y":52},{"x":60,"y":55},{"x":110,"y":62}],
"g":[{"x":134,"y":5.59},{"x":119,"y":5.29},{"x":47,"y":5.23},{"x":154,"y":5.23},{"x":62,"y":5.06},{"x":125,"y":5.07},{"x":55,"y":4.87},{"x":33,"y":4.81},{"x":103,"y":4.83},{"x":468,"y":4.8},{"x":95,"y":4.73},{"x":61,"y":4.67},{"x":86,"y":4.67},{"x":137,"y":4.66},{"x":90,"y":4.59},{"x":96,"y":4.56},{"x":117,"y":4.53},{"x":132,"y":4.5},{"x":221,"y":4.5},{"x":296,"y":4.48},{"x":0,"y":4.48},{"x":80,"y":4.46},{"x":145,"y":4.42},{"x":92,"y":4.42},{"x":97,"y":4.4},{"x":67,"y":4.38},{"x":80,"y":4.32},{"x":135,"y":4.3},{"x":47,"y":4.27},{"x":105,"y":4.23},{"x":153,"y":4.1},{"x":72,"y":4.09},{"x":67,"y":4.05},{"x":53,"y":4.04},{"x":94,"y":4.03},{"x":213,"y":4.04},{"x":108,"y":4.02},{"x":154,"y":3.99},{"x":95,"y":3.97},{"x":189,"y":3.96},{"x":187,"y":3.9},{"x":117,"y":3.91},{"x":110,"y":3.9},{"x":99,"y":3.87},{"x":134,"y":3.86},{"x":139,"y":3.82},{"x":71,"y":3.85},{"x":77,"y":3.82},{"x":40,"y":3.77},{"x":60,"y":3.76},{"x":105,"y":3.77},{"x":120,"y":3.76},{"x":136,"y":3.77},{"x":250,"y":3.76},{"x":316,"y":3.73},{"x":188,"y":3.72},{"x":53,"y":3.69},{"x":74,"y":3.66},{"x":164,"y":3.66},{"x":56,"y":3.58},{"x":83,"y":3.63},{"x":157,"y":3.62},{"x":161,"y":3.58},{"x":73,"y":3.58},{"x":109,"y":3.6},{"x":137,"y":3.6},{"x":87,"y":3.58},{"x":79,"y":3.55},{"x":175,"y":3.53},{"x":90,"y":3.5},{"x":134,"y":3.52},{"x":121,"y":3.5},{"x":51,"y":3.4},{"x":62,"y":3.4},{"x":66,"y":3.45},{"x":79,"y":3.45},{"x":86,"y":3.43},{"x":101,"y":3.38},{"x":118,"y":3.45},{"x":145,"y":3.45},{"x":153,"y":3.39},{"x":140,"y":3.42},{"x":130,"y":3.38},{"x":108,"y":3.33},{"x":117,"y":3.33},{"x":144,"y":3.27},{"x":51,"y":3.3},{"x":62,"y":3.27},{"x":87,"y":3.27},{"x":173,"y":3.3},{"x":139,"y":3.2},{"x":82,"y":3.18},{"x":31,"y":3.12},{"x":60,"y":3.08},{"x":72,"y":3.07},{"x":78,"y":3.1},{"x":87,"y":3.12},{"x":103,"y":3.1},{"x":110,"y":3.1},{"x":121,"y":3.12},{"x":143,"y":3.1},{"x":174,"y":3.09},{"x":302,"y":3.04},{"x":80,"y":3},{"x":100,"y":2.98},{"x":114,"y":3},{"x":157,"y":3.02},{"x":167,"y":3.03},{"x":141,"y":3},{"x":228,"y":2.91},{"x":186,"y":2.93},{"x":60,"y":2.94},{"x":85,"y":2.92},{"x":117,"y":2.93},{"x":135,"y":2.93},{"x":47,"y":2.88},{"x":55,"y":2.82},{"x":88,"y":2.83},{"x":73,"y":2.8},{"x":100,"y":2.83},{"x":117,"y":2.85},{"x":130,"y":2.85},{"x":155,"y":2.85},{"x":24,"y":2.81},{"x":47,"y":2.76},{"x":75,"y":2.74},{"x":84,"y":2.7},{"x":92,"y":2.7},{"x":106,"y":2.73},{"x":137,"y":2.73},{"x":153,"y":2.73},{"x":162,"y":2.75},{"x":195,"y":2.75},{"x":70,"y":2.71},{"x":114,"y":2.68},{"x":122,"y":2.66},{"x":147,"y":2.68},{"x":201,"y":2.63},{"x":210,"y":2.65},{"x":228,"y":2.63},{"x":86,"y":2.62},{"x":68,"y":2.6},{"x":92,"y":2.58},{"x":103,"y":2.55},{"x":119,"y":2.6},{"x":140,"y":2.57},{"x":153,"y":2.58},{"x":285,"y":2.59},{"x":642,"y":2.49},{"x":180,"y":2.48},{"x":118,"y":2.48},{"x":131,"y":2.47},{"x":92,"y":2.47},{"x":143,"y":2.43},{"x":38,"y":2.39},{"x":65,"y":2.39},{"x":86,"y":2.38},{"x":91,"y":2.38},{"x":105,"y":2.37},{"x":157,"y":2.38},{"x":171,"y":2.4},{"x":60,"y":2.31},{"x":72,"y":2.32},{"x":89,"y":2.35},{"x":115,"y":2.33},{"x":129,"y":2.3},{"x":179,"y":2.32},{"x":243,"y":2.27},{"x":249,"y":2.28},{"x":47,"y":2.24},{"x":60,"y":2.23},{"x":76,"y":2.22},{"x":92,"y":2.22},{"x":105,"y":2.25},{"x":120,"y":2.23},{"x":135,"y":2.2},{"x":147,"y":2.22},{"x":167,"y":2.22},{"x":187,"y":2.18},{"x":207,"y":2.25},{"x":70,"y":2.16},{"x":125,"y":2.16},{"x":51,"y":2.11},{"x":53,"y":2.1},{"x":163,"y":2.12},{"x":130,"y":2.1},{"x":232,"y":2.08},{"x":33,"y":2.03},{"x":85,"y":2.05},{"x":92,"y":2.03},{"x":115,"y":2.03},{"x":140,"y":2.03},{"x":179,"y":2.07},{"x":200,"y":2.03},{"x":234,"y":2},{"x":296,"y":2.06},{"x":114,"y":1.93},{"x":137,"y":1.92},{"x":143,"y":1.92},{"x":155,"y":1.9},{"x":70,"y":1.88},{"x":99,"y":1.88},{"x":85,"y":1.92},{"x":120,"y":1.85},{"x":124,"y":1.85},{"x":303,"y":1.84},{"x":95,"y":1.83},{"x":159,"y":1.8},{"x":172,"y":1.82},{"x":142,"y":1.78},{"x":104,"y":1.76},{"x":150,"y":1.76},{"x":163,"y":1.75},{"x":201,"y":1.74},{"x":99,"y":1.71},{"x":116,"y":1.73},{"x":120,"y":1.7},{"x":47,"y":1.66},{"x":57,"y":1.67},{"x":130,"y":1.66},{"x":137,"y":1.66},{"x":385,"y":1.66},{"x":122,"y":1.62},{"x":73,"y":1.62},{"x":47,"y":1.54},{"x":54,"y":1.57},{"x":87,"y":1.55},{"x":96,"y":1.57},{"x":128,"y":1.57},{"x":165,"y":1.55},{"x":187,"y":1.52},{"x":209,"y":1.57},{"x":257,"y":1.48},{"x":71,"y":1.42},{"x":103,"y":1.47},{"x":107,"y":1.43},{"x":91,"y":1.37},{"x":102,"y":1.37},{"x":172,"y":1.38},{"x":213,"y":1.27},{"x":77,"y":1.23},{"x":145,"y":1.19},{"x":154,"y":1.22},{"x":91,"y":1.07},{"x":49,"y":1.03},{"x":138,"y":0.99},{"x":116,"y":0.93},{"x":127,"y":0.92},{"x":132,"y":0.61},{"x":98,"y":0.52},{"x":65,"y":0.03},{"x":80,"y":2.5},{"x":95,"y":2.5},{"x":110,"y":2.5},{"x":125,"y":2.55},{"x":135,"y":2.4},{"x":100,"y":2.7},{"x":110,"y":2.8},{"x":125,"y":2.8},{"x":140,"y":2.8},{"x":95,"y":2.95},{"x":75,"y":2.9},{"x":65,"y":2.75},{"x":110,"y":2.2},{"x":100,"y":2.12},{"x":85,"y":2.15},{"x":78,"y":2.6},{"x":115,"y":3.2},{"x":95,"y":3.3},{"x":75,"y":3.3},{"x":128,"y":3.15},{"x":150,"y":3.15},{"x":60,"y":3.5},{"x":95,"y":3.6},{"x":122,"y":3.6},{"x":105,"y":3.55},{"x":145,"y":2.55},{"x":125,"y":2.05}],
"h":[{"x":0.14,"y":495},{"x":1.5,"y":220},{"x":7.55,"y":257},{"x":0.42,"y":240},{"x":0.35,"y":203},{"x":0.42,"y":201},{"x":0.27,"y":197},{"x":0.47,"y":194},{"x":2.4,"y":192},{"x":3.85,"y":196},{"x":0.1,"y":186},{"x":0.32,"y":186},{"x":-0.02,"y":178},{"x":0.17,"y":178},{"x":0.07,"y":173},{"x":4.05,"y":172},{"x":0.35,"y":167},{"x":0.72,"y":165},{"x":-0.32,"y":158},{"x":-0.1,"y":158},{"x":0.19,"y":156},{"x":0.43,"y":155},{"x":0.95,"y":155},{"x":3.55,"y":158},{"x":-0.2,"y":147},{"x":-0.05,"y":149},{"x":0.05,"y":146},{"x":0.42,"y":149},{"x":0.17,"y":143},{"x":0.3,"y":140},{"x":1.55,"y":145},{"x":1.8,"y":145},{"x":2,"y":141},{"x":4.15,"y":147},{"x":0.1,"y":137},{"x":0.6,"y":138},{"x":2.45,"y":133},{"x":3.85,"y":136},{"x":-0.2,"y":128},{"x":0.05,"y":132},{"x":0.2,"y":128},{"x":0.45,"y":128},{"x":1.6,"y":128},{"x":3.4,"y":130},{"x":0.72,"y":125},{"x":1.45,"y":124},{"x":1.7,"y":121},{"x":-0.12,"y":121},{"x":0.1,"y":120},{"x":0.3,"y":118},{"x":1.35,"y":120},{"x":-0.38,"y":115},{"x":-0.12,"y":112},{"x":0.05,"y":115},{"x":0.12,"y":110},{"x":0.3,"y":113},{"x":0.5,"y":116},{"x":0.65,"y":115},{"x":3.8,"y":116},{"x":3.55,"y":111},{"x":3.5,"y":110},{"x":1.25,"y":110},{"x":1.45,"y":108},{"x":0.1,"y":103},{"x":0.35,"y":105},{"x":0.6,"y":107},{"x":1.1,"y":104},{"x":2.7,"y":107},{"x":-0.05,"y":98},{"x":-0.25,"y":101},{"x":-0.4,"y":98},{"x":0.2,"y":100},{"x":0.5,"y":98},{"x":0.8,"y":99},{"x":3.2,"y":99},{"x":3.5,"y":101},{"x":4.1,"y":99},{"x":-0.15,"y":93},{"x":0.1,"y":94},{"x":0.3,"y":92},{"x":1.15,"y":90},{"x":1.45,"y":93},{"x":1.78,"y":93},{"x":2.3,"y":92},{"x":3.45,"y":87},{"x":3.8,"y":87},{"x":-0.35,"y":85},{"x":0,"y":88},{"x":0.25,"y":85},{"x":0.5,"y":85},{"x":1.18,"y":82},{"x":1.65,"y":83},{"x":2.45,"y":82},{"x":7.6,"y":85},{"x":7.45,"y":80},{"x":-0.38,"y":80},{"x":-0.1,"y":78},{"x":0.15,"y":78},{"x":0.45,"y":80},{"x":0.75,"y":80},{"x":0.9,"y":78},{"x":1.2,"y":74},{"x":2.35,"y":73},{"x":3.65,"y":74},{"x":3.95,"y":78},{"x":-0.55,"y":69},{"x":-0.3,"y":72},{"x":-0.15,"y":66},{"x":0.05,"y":72},{"x":0.22,"y":70},{"x":0.5,"y":72},{"x":0.78,"y":73},{"x":0.9,"y":68},{"x":1.58,"y":68},{"x":1.75,"y":70},{"x":2.15,"y":68},{"x":2.5,"y":65},{"x":3.45,"y":66},{"x":3.8,"y":62},{"x":-0.3,"y":63},{"x":-0.1,"y":60},{"x":0.1,"y":63},{"x":0.37,"y":60},{"x":0.6,"y":62},{"x":0.82,"y":61},{"x":1.1,"y":60},{"x":1.33,"y":61},{"x":1.62,"y":62},{"x":1.78,"y":64},{"x":2.75,"y":54},{"x":3.5,"y":60},{"x":3.6,"y":57},{"x":4,"y":55},{"x":7.4,"y":55},{"x":11.1,"y":58},{"x":-0.3,"y":55},{"x":-0.05,"y":52},{"x":0.15,"y":52},{"x":0.4,"y":55},{"x":0.7,"y":54},{"x":0.85,"y":52},{"x":1.4,"y":56},{"x":1.6,"y":52},{"x":1.8,"y":51},{"x":3.65,"y":50},{"x":7.1,"y":49},{"x":-0.25,"y":48},{"x":0,"y":47},{"x":0.3,"y":48},{"x":0.55,"y":47},{"x":0.78,"y":46},{"x":0.98,"y":45},{"x":1.2,"y":47},{"x":1.77,"y":44},{"x":3.35,"y":45},{"x":-0.4,"y":41},{"x":-0.2,"y":43},{"x":0.1,"y":43},{"x":0.38,"y":42},{"x":0.6,"y":40},{"x":0.92,"y":40},{"x":2.2,"y":39},{"x":-0.38,"y":38},{"x":-0.1,"y":36},{"x":0.1,"y":35},{"x":0.22,"y":33},{"x":0.58,"y":36},{"x":1.43,"y":35},{"x":1.33,"y":32},{"x":1.1,"y":29},{"x":-0.18,"y":28},{"x":0,"y":25},{"x":0.28,"y":31},{"x":4.5,"y":28},{"x":-0.38,"y":22},{"x":-0.05,"y":20},{"x":0.15,"y":25},{"x":0.45,"y":22},{"x":1.9,"y":25},{"x":2,"y":23},{"x":0,"y":17},{"x":0.28,"y":17},{"x":0.6,"y":15},{"x":1.12,"y":11},{"x":0.12,"y":7},{"x":0.2,"y":10},{"x":-1.63,"y":18},{"x":-0.08,"y":3},{"x":0.07,"y":5},{"x":3.85,"y":2},{"x":-0.2,"y":105},{"x":0,"y":108},{"x":0.15,"y":112},{"x":0.3,"y":98},{"x":0.45,"y":108},{"x":-0.1,"y":88},{"x":0.1,"y":82},{"x":0.35,"y":78},{"x":0.55,"y":90},{"x":0.7,"y":92},{"x":-0.25,"y":75},{"x":-0.05,"y":68},{"x":0.1,"y":75},{"x":0.3,"y":68},{"x":0.55,"y":65},{"x":0.7,"y":62},{"x":-0.2,"y":60},{"x":0,"y":58},{"x":0.2,"y":58},{"x":0.45,"y":62},{"x":0.65,"y":55},{"x":-0.15,"y":52},{"x":0.1,"y":50},{"x":0.25,"y":53},{"x":0.5,"y":50},{"x":0.7,"y":47},{"x":-0.1,"y":44},{"x":0.2,"y":45},{"x":0.42,"y":47},{"x":0,"y":38},{"x":0.3,"y":40},{"x":0.45,"y":36},{"x":0.15,"y":30},{"x":0.05,"y":125},{"x":0.25,"y":135},{"x":0.4,"y":120},{"x":0,"y":140},{"x":0.3,"y":150},{"x":0.2,"y":165},{"x":0.1,"y":155},{"x":0.25,"y":172}]
},
"concat":[
{"width":696,"height":511,"title":{"text":"a","dx":-74,"dy":44},"layer":[
{"data":{"values":[{"v":5},{"v":10},{"v":15},{"v":20},{"v":25}]},"mark":{"type":"rule","strokeWidth":2.2},"encoding":{"y":{"field":"v","type":"quantitative","scale":{"domain":[-0.055,28.21]},"axis":{"values":[0,5,10,15,20,25],"labelExpr":"datum.value===0?'.00':format(datum.value,'.2f')","offset":-7,"title":"hs-CRP (mg/l)","titleX":-60,"titleY":259}},"x":{"datum":-657,"type":"quantitative","scale":{"domain":[-792,12657]},"axis":{"values":[0,2000,4000,6000,8000,10000,12000],"labelExpr":"datum.value===0?'.00':format(datum.value,'.2f')","offset":-1,"title":"Total polyphenol  (mg/d)","titleX":352,"titleY":40}},"x2":{"datum":12657}}},
{"data":{"values":[{"v":0},{"v":2000},{"v":4000},{"v":6000},{"v":8000},{"v":10000},{"v":12000}]},"mark":{"type":"rule","strokeWidth":1.6},"encoding":{"x":{"field":"v","type":"quantitative","scale":{"domain":[-792,12657]}},"y":{"datum":0,"type":"quantitative","scale":{"domain":[-0.055,28.21]}},"y2":{"datum":27.77}}},
{"data":{"values":[{"x":-657,"y":5.7},{"x":12657,"y":2.48}]},"mark":{"type":"line","stroke":"#a8a8a8","strokeWidth":1.6},"encoding":{"x":{"field":"x","type":"quantitative","scale":{"domain":[-792,12657]}},"y":{"field":"y","type":"quantitative","scale":{"domain":[-0.055,28.21]}}}},
{"data":{"name":"a"},"mark":{"type":"point","filled":true,"shape":"circle","size":70,"fill":"#686868","stroke":"#3a3a3a","strokeWidth":1.2,"opacity":0.95,"clip":true},"encoding":{"x":{"field":"x","type":"quantitative","scale":{"domain":[-792,12657]}},"y":{"field":"y","type":"quantitative","scale":{"domain":[-0.055,28.21]}}}},
{"data":{"values":[{"s":1}]},"mark":{"type":"rule","stroke":"#8c8c8c","strokeWidth":1.6},"encoding":{"x":{"datum":-657,"type":"quantitative","scale":{"domain":[-792,12657]}},"y":{"datum":0,"type":"quantitative","scale":{"domain":[-0.055,28.21]}},"y2":{"datum":27.77}}},
{"data":{"values":[{"s":1}]},"mark":{"type":"rule","stroke":"#9a9a9a","strokeWidth":2.4},"encoding":{"y":{"datum":0,"type":"quantitative","scale":{"domain":[-0.055,28.21]}},"x":{"datum":-657,"type":"quantitative","scale":{"domain":[-792,12657]}},"x2":{"datum":12657}}},
{"data":{"values":[{"label":"R² Linear = 0.005"}]},"mark":{"type":"text","align":"left","baseline":"middle","fontSize":11.5,"color":"#999999"},"encoding":{"x":{"datum":12751,"type":"quantitative","scale":{"domain":[-792,12657]}},"y":{"datum":27.1,"type":"quantitative","scale":{"domain":[-0.055,28.21]}},"text":{"field":"label"}}}
]},
{"width":697,"height":511,"title":{"text":"e","dx":-77,"dy":43},"layer":[
{"data":{"values":[{"v":1},{"v":2},{"v":3},{"v":4},{"v":5},{"v":6}]},"mark":{"type":"rule","strokeWidth":2.2},"encoding":{"y":{"field":"v","type":"quantitative","scale":{"domain":[0,6.783]},"axis":{"values":[0,1,2,3,4,5,6],"labelExpr":"datum.value===0?'.00':format(datum.value,'.2f')","title":"IL-1β (mg/l)","titleX":-52,"titleY":260}},"x":{"datum":-22.1,"type":"quantitative","scale":{"domain":[-22.1,422]},"axis":{"values":[0,100,200,300,400],"labelExpr":"datum.value===0?'.00':format(datum.value,'.2f')","title":"Total Flavonoids (mg/d)","titleX":349,"titleY":41}},"x2":{"datum":422}}},
{"data":{"values":[{"v":0},{"v":100},{"v":200},{"v":300},{"v":400}]},"mark":{"type":"rule","strokeWidth":1.6},"encoding":{"x":{"field":"v","type":"quantitative","scale":{"domain":[-22.1,422]}},"y":{"datum":0,"type":"quantitative","scale":{"domain":[0,6.783]}},"y2":{"datum":6.656}}},
{"data":{"values":[{"x":-22.1,"y":2.875},{"x":422,"y":2.784}]},"mark":{"type":"line","stroke":"#a8a8a8","strokeWidth":1.6},"encoding":{"x":{"field":"x","type":"quantitative","scale":{"domain":[-22.1,422]}},"y":{"field":"y","type":"quantitative","scale":{"domain":[0,6.783]}}}},
{"data":{"name":"e"},"mark":{"type":"point","filled":true,"shape":"circle","size":70,"fill":"#686868","stroke":"#3a3a3a","strokeWidth":1.2,"opacity":0.95,"clip":true},"encoding":{"x":{"field":"x","type":"quantitative","scale":{"domain":[-22.1,422]}},"y":{"field":"y","type":"quantitative","scale":{"domain":[0,6.783]}}}},
{"data":{"values":[{"s":1}]},"mark":{"type":"rule","stroke":"#8c8c8c","strokeWidth":1.6},"encoding":{"x":{"datum":-22.1,"type":"quantitative","scale":{"domain":[-22.1,422]}},"y":{"datum":0,"type":"quantitative","scale":{"domain":[0,6.783]}},"y2":{"datum":6.656}}},
{"data":{"values":[{"s":1}]},"mark":{"type":"rule","stroke":"#9a9a9a","strokeWidth":2.4},"encoding":{"y":{"datum":0,"type":"quantitative","scale":{"domain":[0,6.783]}},"x":{"datum":-22.1,"type":"quantitative","scale":{"domain":[-22.1,422]}},"x2":{"datum":422}}},
{"data":{"values":[{"label":"R² Linear = 1.739E-4"}]},"mark":{"type":"text","align":"left","baseline":"middle","fontSize":11.5,"color":"#999999"},"encoding":{"x":{"datum":424.9,"type":"quantitative","scale":{"domain":[-22.1,422]}},"y":{"datum":6.505,"type":"quantitative","scale":{"domain":[0,6.783]}},"text":{"field":"label"}}}
]},
{"width":696,"height":629,"title":{"text":"b","dx":-74,"dy":158},"layer":[
{"data":{"values":[{"v":100},{"v":200},{"v":300},{"v":400},{"v":500},{"v":600}]},"mark":{"type":"rule","strokeWidth":2.2},"encoding":{"y":{"field":"v","type":"quantitative","scale":{"domain":[-13.27,821.7]},"axis":{"values":[0,100,200,300,400,500,600],"labelExpr":"datum.value===0?'.00':format(datum.value,'.2f')","offset":-14,"title":"MCP-1 (mg/l)","titleX":-67,"titleY":367}},"x":{"datum":-664,"type":"quantitative","scale":{"domain":[-937,12656]},"axis":{"values":[0,2000,4000,6000,8000,10000,12000],"labelExpr":"datum.value===0?'.00':format(datum.value,'.2f')","offset":-10,"title":"Total polyphenol  (mg/d)","titleX":356,"titleY":41}},"x2":{"datum":12656}}},
{"data":{"values":[{"v":0},{"v":2000},{"v":4000},{"v":6000},{"v":8000},{"v":10000},{"v":12000}]},"mark":{"type":"rule","strokeWidth":1.6},"encoding":{"x":{"field":"v","type":"quantitative","scale":{"domain":[-937,12656]}},"y":{"datum":0,"type":"quantitative","scale":{"domain":[-13.27,821.7]}},"y2":{"datum":665}}},
{"data":{"values":[{"x":-664,"y":73.7},{"x":12656,"y":35.6}]},"mark":{"type":"line","stroke":"#a8a8a8","strokeWidth":1.6},"encoding":{"x":{"field":"x","type":"quantitative","scale":{"domain":[-937,12656]}},"y":{"field":"y","type":"quantitative","scale":{"domain":[-13.27,821.7]}}}},
{"data":{"name":"b"},"mark":{"type":"point","filled":true,"shape":"circle","size":70,"fill":"#686868","stroke":"#3a3a3a","strokeWidth":1.2,"opacity":0.95,"clip":true},"encoding":{"x":{"field":"x","type":"quantitative","scale":{"domain":[-937,12656]}},"y":{"field":"y","type":"quantitative","scale":{"domain":[-13.27,821.7]}}}},
{"data":{"values":[{"s":1}]},"mark":{"type":"rect","fill":"#ffffff"},"encoding":{"x":{"datum":-664,"type":"quantitative","scale":{"domain":[-937,12656]}},"x2":{"datum":12656},"y":{"datum":0,"type":"quantitative","scale":{"domain":[-13.27,821.7]}},"y2":{"datum":-6.5}}},
{"data":{"values":[{"s":1}]},"mark":{"type":"rule","stroke":"#8c8c8c","strokeWidth":1.6},"encoding":{"x":{"datum":-664,"type":"quantitative","scale":{"domain":[-937,12656]}},"y":{"datum":0,"type":"quantitative","scale":{"domain":[-13.27,821.7]}},"y2":{"datum":665}}},
{"data":{"values":[{"s":1}]},"mark":{"type":"rule","stroke":"#9a9a9a","strokeWidth":2.4},"encoding":{"y":{"datum":0,"type":"quantitative","scale":{"domain":[-13.27,821.7]}},"x":{"datum":-664,"type":"quantitative","scale":{"domain":[-937,12656]}},"x2":{"datum":12656}}},
{"data":{"values":[{"label":"R² Linear = 0.002"}]},"mark":{"type":"text","align":"left","baseline":"middle","fontSize":11.5,"color":"#999999"},"encoding":{"x":{"datum":12753,"type":"quantitative","scale":{"domain":[-937,12656]}},"y":{"datum":650,"type":"quantitative","scale":{"domain":[-13.27,821.7]}},"text":{"field":"label"}}}
]},
{"width":697,"height":629,"title":{"text":"f","dx":-77,"dy":157},"layer":[
{"data":{"values":[{"v":100},{"v":200},{"v":300},{"v":400},{"v":500},{"v":600}]},"mark":{"type":"rule","strokeWidth":2.2},"encoding":{"y":{"field":"v","type":"quantitative","scale":{"domain":[0,835]},"axis":{"values":[0,100,200,300,400,500,600],"labelExpr":"datum.value===0?'.00':format(datum.value,'.2f')","offset":-15,"title":"MCP-1 (mg/l)","titleX":-67,"titleY":378}},"x":{"datum":-21.96,"type":"quantitative","scale":{"domain":[-31.7,422.1]},"axis":{"values":[0,100,200,300,400],"labelExpr":"datum.value===0?'.00':format(datum.value,'.2f')","title":"Total Flavonoids (mg/d)","titleX":356,"titleY":41}},"x2":{"datum":422.1}}},
{"data":{"values":[{"v":0},{"v":100},{"v":200},{"v":300},{"v":400}]},"mark":{"type":"rule","strokeWidth":1.6},"encoding":{"x":{"field":"v","type":"quantitative","scale":{"domain":[-31.7,422.1]}},"y":{"datum":0,"type":"quantitative","scale":{"domain":[0,835]}},"y2":{"datum":666.4}}},
{"data":{"values":[{"x":-21.96,"y":81.8},{"x":422.1,"y":22.9}]},"mark":{"type":"line","stroke":"#a8a8a8","strokeWidth":1.6},"encoding":{"x":{"field":"x","type":"quantitative","scale":{"domain":[-31.7,422.1]}},"y":{"field":"y","type":"quantitative","scale":{"domain":[0,835]}}}},
{"data":{"name":"f"},"mark":{"type":"point","filled":true,"shape":"circle","size":70,"fill":"#686868","stroke":"#3a3a3a","strokeWidth":1.2,"opacity":0.95,"clip":true},"encoding":{"x":{"field":"x","type":"quantitative","scale":{"domain":[-31.7,422.1]}},"y":{"field":"y","type":"quantitative","scale":{"domain":[0,835]}}}},
{"data":{"values":[{"s":1}]},"mark":{"type":"rule","stroke":"#8c8c8c","strokeWidth":1.6},"encoding":{"x":{"datum":-21.96,"type":"quantitative","scale":{"domain":[-31.7,422.1]}},"y":{"datum":0,"type":"quantitative","scale":{"domain":[0,835]}},"y2":{"datum":666.4}}},
{"data":{"values":[{"s":1}]},"mark":{"type":"rule","stroke":"#9a9a9a","strokeWidth":2.4},"encoding":{"y":{"datum":0,"type":"quantitative","scale":{"domain":[0,835]}},"x":{"datum":-21.96,"type":"quantitative","scale":{"domain":[-31.7,422.1]}},"x2":{"datum":422.1}}},
{"data":{"values":[{"label":"R² Linear = 0.008"}]},"mark":{"type":"text","align":"left","baseline":"middle","fontSize":11.5,"color":"#999999"},"encoding":{"x":{"datum":425.5,"type":"quantitative","scale":{"domain":[-31.7,422.1]}},"y":{"datum":649.8,"type":"quantitative","scale":{"domain":[0,835]}},"text":{"field":"label"}}}
]},
{"width":696,"height":621,"title":{"text":"c","dx":-74,"dy":155},"layer":[
{"data":{"values":[{"v":10},{"v":20},{"v":30},{"v":40}]},"mark":{"type":"rule","strokeWidth":2.2},"encoding":{"y":{"field":"v","type":"quantitative","scale":{"domain":[0,54.96]},"axis":{"values":[0,10,20,30,40],"labelExpr":"datum.value===0?'.00':format(datum.value,'.2f')","offset":-7,"title":"Galectin 3 (mg/l)","titleX":-60,"titleY":370}},"x":{"datum":-657,"type":"quantitative","scale":{"domain":[-792,12657]},"axis":{"values":[0,2000,4000,6000,8000,10000,12000],"labelExpr":"datum.value===0?'.00':format(datum.value,'.2f')","title":"Total polyphenol  (mg/d)","titleX":352,"titleY":41}},"x2":{"datum":12657}}},
{"data":{"values":[{"v":0},{"v":2000},{"v":4000},{"v":6000},{"v":8000},{"v":10000},{"v":12000}]},"mark":{"type":"rule","strokeWidth":1.6},"encoding":{"x":{"field":"v","type":"quantitative","scale":{"domain":[-792,12657]}},"y":{"datum":0,"type":"quantitative","scale":{"domain":[0,54.96]}},"y2":{"datum":44.34}}},
{"data":{"values":[{"x":-657,"y":4.9},{"x":12657,"y":2.23}]},"mark":{"type":"line","stroke":"#a8a8a8","strokeWidth":1.6},"encoding":{"x":{"field":"x","type":"quantitative","scale":{"domain":[-792,12657]}},"y":{"field":"y","type":"quantitative","scale":{"domain":[0,54.96]}}}},
{"data":{"name":"c"},"mark":{"type":"point","filled":true,"shape":"circle","size":70,"fill":"#686868","stroke":"#3a3a3a","strokeWidth":1.2,"opacity":0.95,"clip":true},"encoding":{"x":{"field":"x","type":"quantitative","scale":{"domain":[-792,12657]}},"y":{"field":"y","type":"quantitative","scale":{"domain":[0,54.96]}}}},
{"data":{"values":[{"s":1}]},"mark":{"type":"rule","stroke":"#8c8c8c","strokeWidth":1.6},"encoding":{"x":{"datum":-657,"type":"quantitative","scale":{"domain":[-792,12657]}},"y":{"datum":0,"type":"quantitative","scale":{"domain":[0,54.96]}},"y2":{"datum":44.34}}},
{"data":{"values":[{"s":1}]},"mark":{"type":"rule","stroke":"#9a9a9a","strokeWidth":2.4},"encoding":{"y":{"datum":0,"type":"quantitative","scale":{"domain":[0,54.96]}},"x":{"datum":-657,"type":"quantitative","scale":{"domain":[-792,12657]}},"x2":{"datum":12657}}},
{"data":{"values":[{"label":"R² Linear = 0.002"}]},"mark":{"type":"text","align":"left","baseline":"middle","fontSize":11.5,"color":"#999999"},"encoding":{"x":{"datum":12751,"type":"quantitative","scale":{"domain":[-792,12657]}},"y":{"datum":43.36,"type":"quantitative","scale":{"domain":[0,54.96]}},"text":{"field":"label"}}}
]},
{"width":697,"height":621,"title":{"text":"g","dx":-77,"dy":154},"layer":[
{"data":{"values":[{"v":1},{"v":2},{"v":3},{"v":4},{"v":5},{"v":6}]},"mark":{"type":"rule","strokeWidth":2.2},"encoding":{"y":{"field":"v","type":"quantitative","scale":{"domain":[0,8.244]},"axis":{"values":[0,1,2,3,4,5,6],"labelExpr":"datum.value===0?'.00':format(datum.value,'.2f')","title":"IL-1β (mg/l)","titleX":-52,"titleY":370}},"x":{"datum":-38.7,"type":"quantitative","scale":{"domain":[-38.7,738.5]},"axis":{"values":[0,200,400,600],"labelExpr":"datum.value===0?'.00':format(datum.value,'.2f')","title":"Other polyphenols (mg/d)","titleX":349,"titleY":41}},"x2":{"datum":738.5}}},
{"data":{"values":[{"v":0},{"v":200},{"v":400},{"v":600}]},"mark":{"type":"rule","strokeWidth":1.6},"encoding":{"x":{"field":"v","type":"quantitative","scale":{"domain":[-38.7,738.5]}},"y":{"datum":0,"type":"quantitative","scale":{"domain":[0,8.244]}},"y2":{"datum":6.65}}},
{"data":{"values":[{"x":-38.7,"y":3.05},{"x":738.5,"y":2.1}]},"mark":{"type":"line","stroke":"#a8a8a8","strokeWidth":1.6},"encoding":{"x":{"field":"x","type":"quantitative","scale":{"domain":[-38.7,738.5]}},"y":{"field":"y","type":"quantitative","scale":{"domain":[0,8.244]}}}},
{"data":{"name":"g"},"mark":{"type":"point","filled":true,"shape":"circle","size":70,"fill":"#686868","stroke":"#3a3a3a","strokeWidth":1.2,"opacity":0.95,"clip":true},"encoding":{"x":{"field":"x","type":"quantitative","scale":{"domain":[-38.7,738.5]}},"y":{"field":"y","type":"quantitative","scale":{"domain":[0,8.244]}}}},
{"data":{"values":[{"s":1}]},"mark":{"type":"rule","stroke":"#8c8c8c","strokeWidth":1.6},"encoding":{"x":{"datum":-38.7,"type":"quantitative","scale":{"domain":[-38.7,738.5]}},"y":{"datum":0,"type":"quantitative","scale":{"domain":[0,8.244]}},"y2":{"datum":6.65}}},
{"data":{"values":[{"s":1}]},"mark":{"type":"rule","stroke":"#9a9a9a","strokeWidth":2.4},"encoding":{"y":{"datum":0,"type":"quantitative","scale":{"domain":[0,8.244]}},"x":{"datum":-38.7,"type":"quantitative","scale":{"domain":[-38.7,738.5]}},"x2":{"datum":738.5}}},
{"data":{"values":[{"label":"R² Linear = 0.006"}]},"mark":{"type":"text","align":"left","baseline":"middle","fontSize":11.5,"color":"#999999"},"encoding":{"x":{"datum":743.6,"type":"quantitative","scale":{"domain":[-38.7,738.5]}},"y":{"datum":6.5,"type":"quantitative","scale":{"domain":[0,8.244]}},"text":{"field":"label"}}}
]},
{"width":696,"height":590,"title":{"text":"d","dx":-74,"dy":117},"layer":[
{"data":{"values":[{"v":1},{"v":2},{"v":3},{"v":4},{"v":5},{"v":6}]},"mark":{"type":"rule","strokeWidth":2.2},"encoding":{"y":{"field":"v","type":"quantitative","scale":{"domain":[0,7.832]},"axis":{"values":[0,1,2,3,4,5,6],"labelExpr":"datum.value===0?'.00':format(datum.value,'.2f')","title":"IL-1β (mg/l)","titleX":-53,"titleY":339}},"x":{"datum":-21.66,"type":"quantitative","scale":{"domain":[-21.66,421.8]},"axis":{"values":[0,100,200,300,400],"labelExpr":"datum.value===0?'.00':format(datum.value,'.2f')","title":"Total Flavonoids (mg/d)","titleX":348,"titleY":40}},"x2":{"datum":421.8}}},
{"data":{"values":[{"v":0},{"v":100},{"v":200},{"v":300},{"v":400}]},"mark":{"type":"rule","strokeWidth":1.6},"encoding":{"x":{"field":"v","type":"quantitative","scale":{"domain":[-21.66,421.8]}},"y":{"datum":0,"type":"quantitative","scale":{"domain":[0,7.832]}},"y2":{"datum":6.657}}},
{"data":{"values":[{"x":-21.66,"y":2.875},{"x":421.8,"y":2.784}]},"mark":{"type":"line","stroke":"#a8a8a8","strokeWidth":1.6},"encoding":{"x":{"field":"x","type":"quantitative","scale":{"domain":[-21.66,421.8]}},"y":{"field":"y","type":"quantitative","scale":{"domain":[0,7.832]}}}},
{"data":{"name":"e"},"mark":{"type":"point","filled":true,"shape":"circle","size":70,"fill":"#686868","stroke":"#3a3a3a","strokeWidth":1.2,"opacity":0.95,"clip":true},"encoding":{"x":{"field":"x","type":"quantitative","scale":{"domain":[-21.66,421.8]}},"y":{"field":"y","type":"quantitative","scale":{"domain":[0,7.832]}}}},
{"data":{"values":[{"s":1}]},"mark":{"type":"rule","stroke":"#8c8c8c","strokeWidth":1.6},"encoding":{"x":{"datum":-21.66,"type":"quantitative","scale":{"domain":[-21.66,421.8]}},"y":{"datum":0,"type":"quantitative","scale":{"domain":[0,7.832]}},"y2":{"datum":6.657}}},
{"data":{"values":[{"s":1}]},"mark":{"type":"rule","stroke":"#9a9a9a","strokeWidth":2.4},"encoding":{"y":{"datum":0,"type":"quantitative","scale":{"domain":[0,7.832]}},"x":{"datum":-21.66,"type":"quantitative","scale":{"domain":[-21.66,421.8]}},"x2":{"datum":421.8}}},
{"data":{"values":[{"label":"R² Linear = 1.739E-4"}]},"mark":{"type":"text","align":"left","baseline":"middle","fontSize":11.5,"color":"#999999"},"encoding":{"x":{"datum":425,"type":"quantitative","scale":{"domain":[-21.66,421.8]}},"y":{"datum":6.495,"type":"quantitative","scale":{"domain":[0,7.832]}},"text":{"field":"label"}}}
]},
{"width":697,"height":590,"title":{"text":"h","dx":-77,"dy":117},"layer":[
{"data":{"values":[{"v":100},{"v":200},{"v":300},{"v":400},{"v":500}]},"mark":{"type":"rule","strokeWidth":2.2},"encoding":{"y":{"field":"v","type":"quantitative","scale":{"domain":[0,652.7]},"axis":{"values":[0,100,200,300,400,500],"labelExpr":"datum.value===0?'.00':format(datum.value,'.2f')","offset":-15,"title":"TGF-β (mg/l)","titleX":-67,"titleY":340}},"x":{"datum":-2.792,"type":"quantitative","scale":{"domain":[-3.134,12.775]},"axis":{"values":[0,3,6,9,12],"labelExpr":"datum.value===0?'.00':format(datum.value,'.2f')","title":"Other polyphenols (ml/d)","titleX":356,"titleY":40}},"x2":{"datum":12.775}}},
{"data":{"values":[{"v":0},{"v":3},{"v":6},{"v":9},{"v":12}]},"mark":{"type":"rule","strokeWidth":1.6},"encoding":{"x":{"field":"v","type":"quantitative","scale":{"domain":[-3.134,12.775]}},"y":{"datum":0,"type":"quantitative","scale":{"domain":[0,652.7]}},"y2":{"datum":554.8}}},
{"data":{"values":[{"x":-2.792,"y":72.5},{"x":12.775,"y":111.5}]},"mark":{"type":"line","stroke":"#a8a8a8","strokeWidth":1.6},"encoding":{"x":{"field":"x","type":"quantitative","scale":{"domain":[-3.134,12.775]}},"y":{"field":"y","type":"quantitative","scale":{"domain":[0,652.7]}}}},
{"data":{"name":"h"},"mark":{"type":"point","filled":true,"shape":"circle","size":70,"fill":"#686868","stroke":"#3a3a3a","strokeWidth":1.2,"opacity":0.95,"clip":true},"encoding":{"x":{"field":"x","type":"quantitative","scale":{"domain":[-3.134,12.775]}},"y":{"field":"y","type":"quantitative","scale":{"domain":[0,652.7]}}}},
{"data":{"values":[{"s":1}]},"mark":{"type":"rule","stroke":"#8c8c8c","strokeWidth":1.6},"encoding":{"x":{"datum":-2.792,"type":"quantitative","scale":{"domain":[-3.134,12.775]}},"y":{"datum":0,"type":"quantitative","scale":{"domain":[0,652.7]}},"y2":{"datum":554.8}}},
{"data":{"values":[{"s":1}]},"mark":{"type":"rule","stroke":"#9a9a9a","strokeWidth":2.4},"encoding":{"y":{"datum":0,"type":"quantitative","scale":{"domain":[0,652.7]}},"x":{"datum":-2.792,"type":"quantitative","scale":{"domain":[-3.134,12.775]}},"x2":{"datum":12.775}}},
{"data":{"values":[{"label":"R² Linear = 0.006"}]},"mark":{"type":"text","align":"left","baseline":"middle","fontSize":11.5,"color":"#999999"},"encoding":{"x":{"datum":12.88,"type":"quantitative","scale":{"domain":[-3.134,12.775]}},"y":{"datum":541,"type":"quantitative","scale":{"domain":[0,652.7]}},"text":{"field":"label"}}}
]}
]}
